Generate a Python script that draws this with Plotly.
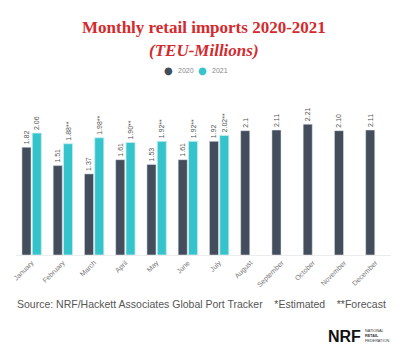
import plotly.graph_objects as go

months = ["January", "February", "March", "April", "May", "June", "July",
          "August", "September", "October", "November", "December"]
v2020 = [1.82, 1.51, 1.37, 1.61, 1.53, 1.61, 1.92, 2.10, 2.11, 2.21, 2.10, 2.11]
t2020 = ["1.82", "1.51", "1.37", "1.61", "1.53", "1.61", "1.92", "2.1", "2.11", "2.21", "2.10", "2.11"]
v2021 = [2.06, 1.88, 1.98, 1.90, 1.92, 1.92, 2.02, None, None, None, None, None]
t2021 = ["2.06", "1.88**", "1.98**", "1.90**", "1.92**", "1.92**", "2.02**", "", "", "", "", ""]
series_names = ["2020", "2021"]

DARK = "#434d5c"
TEAL = "#35c3cc"
RED = "#d42a2e"

fig = go.Figure()
fig.add_trace(go.Bar(x=months, y=v2020, text=t2020, name=series_names[0], marker=dict(color=DARK),
                     textposition="outside", textangle=-90, constraintext="none",
                     textfont=dict(size=7, color="#555", family="Liberation Sans"),
                     cliponaxis=False, showlegend=False))
fig.add_trace(go.Bar(x=months, y=v2021, text=t2021, name=series_names[1],
                     marker=dict(color=TEAL, line=dict(color="#c8eef0", width=0.8)),
                     textposition="outside", textangle=-90, constraintext="none",
                     textfont=dict(size=7, color="#555", family="Liberation Sans"),
                     cliponaxis=False, showlegend=False))

ML, MR, MT, MB = 16, 9, 107, 95
pw = 400 - ML - MR
ph = 350 - MT - MB

def px(xpix):
    return (xpix - ML) / pw

def py(ypix):
    return (350 - MB - ypix) / ph

fig.update_layout(
    width=400, height=350,
    margin=dict(l=ML, r=MR, t=MT, b=MB),
    paper_bgcolor="white", plot_bgcolor="white",
    barmode="group", bargap=0.34, bargroupgap=0.12,
    showlegend=False,
    xaxis=dict(showgrid=False, showline=True, linecolor="#ececec", linewidth=1,
               tickangle=-45, tickfont=dict(size=7, color="#777", family="Liberation Sans"),
               ticks="", range=[-0.5, 11.5]),
    yaxis=dict(range=[0, 2.5], showgrid=False, showticklabels=False, zeroline=False,
               showline=False, ticks=""),
)

fig.add_annotation(text="<b>Monthly retail imports 2020-2021</b>", x=0.5, y=py(27), xref="paper", yref="paper",
                   showarrow=False, font=dict(size=17, color=RED, family="Liberation Serif"),
                   xanchor="center", yanchor="middle")
fig.add_annotation(text="<b><i>(TEU-Millions)</i></b>", x=0.5, y=py(50), xref="paper", yref="paper",
                   showarrow=False, font=dict(size=17, color=RED, family="Liberation Serif"),
                   xanchor="center", yanchor="middle")

# legend (circle markers + labels)
for cx, col, name in [(168, DARK, series_names[0]), (202, TEAL, series_names[1])]:
    fig.add_annotation(text="●", x=px(cx), y=py(70), xref="paper", yref="paper", showarrow=False,
                       font=dict(size=10, color=col, family="DejaVu Sans"),
                       xanchor="center", yanchor="middle")
    fig.add_annotation(text=name, x=px(cx + 8), y=py(70), xref="paper", yref="paper", showarrow=False,
                       font=dict(size=7, color="#888", family="Liberation Sans"),
                       xanchor="left", yanchor="middle")

fig.add_annotation(text="Source: NRF/Hackett Associates Global Port Tracker&nbsp;&nbsp;&nbsp;&nbsp;*Estimated&nbsp;&nbsp;&nbsp;&nbsp;**Forecast",
                   x=px(201), y=py(304), xref="paper", yref="paper", showarrow=False,
                   font=dict(size=10.5, color="#555", family="Liberation Sans"),
                   xanchor="center", yanchor="middle")
fig.add_annotation(text="<b>NRF</b>", x=px(363), y=py(336), xref="paper", yref="paper",
                   showarrow=False, font=dict(size=16, color="#111", family="Liberation Sans"),
                   xanchor="right", yanchor="middle", xshift=0)
fig.add_annotation(text="NATIONAL<br><b>RETAIL</b><br>FEDERATION", x=px(363), y=py(336),
                   xref="paper", yref="paper", showarrow=False, align="left",
                   font=dict(size=3.8, color="#333", family="Liberation Sans"),
                   xanchor="left", yanchor="middle")

fig.write_html("out.html")
